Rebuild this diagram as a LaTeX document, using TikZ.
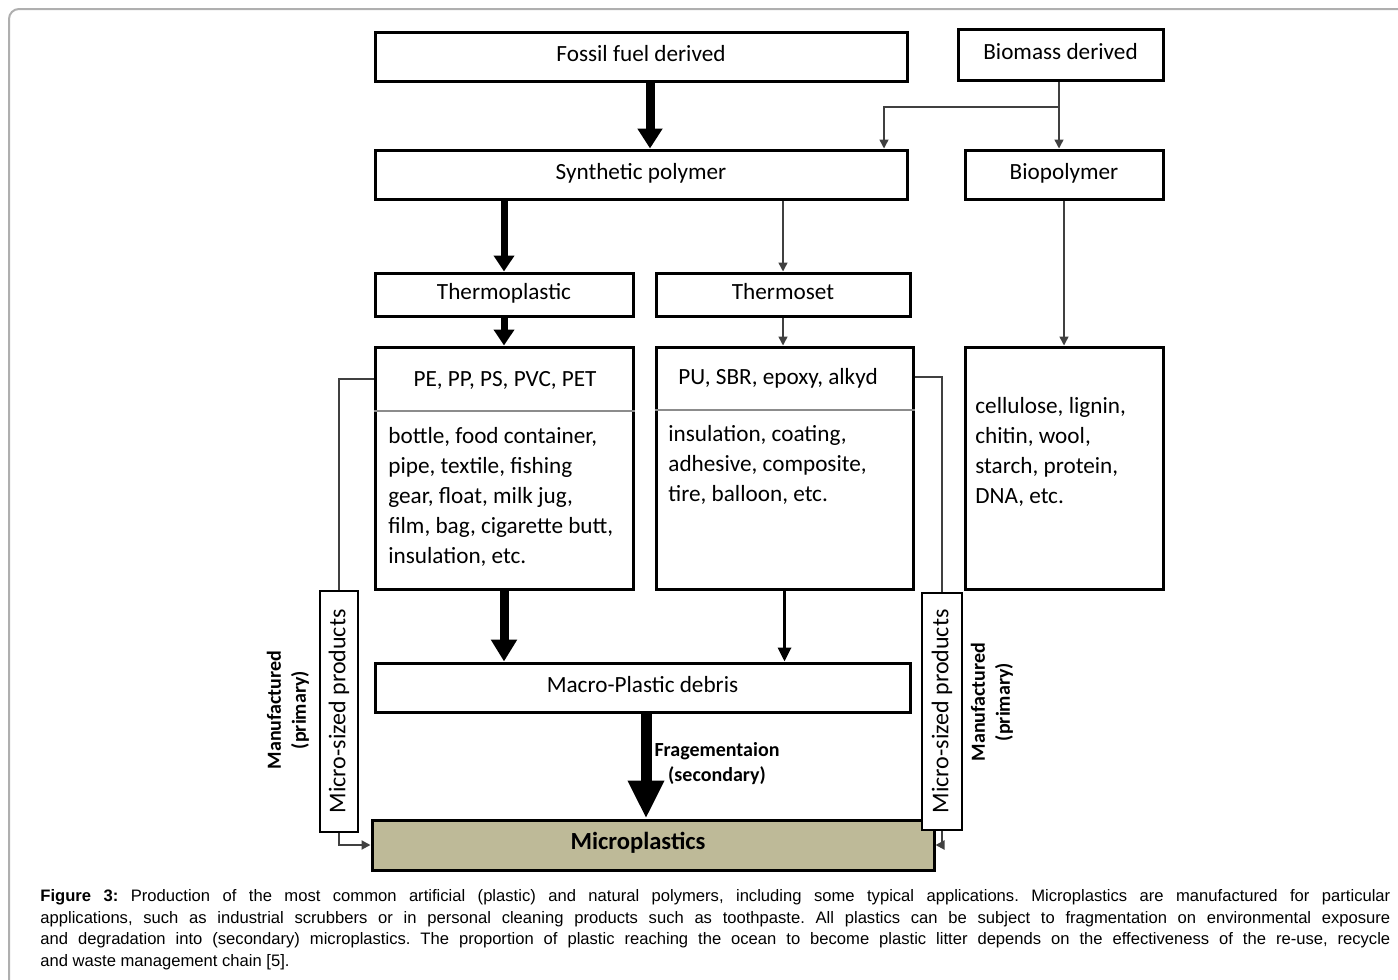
\documentclass[tikz,border=0pt]{standalone}
\usepackage{fontspec}
\setmainfont{Carlito}
\newfontfamily\capfont{Liberation Sans}
\usetikzlibrary{arrows.meta}
\definecolor{microfill}{RGB}{190,186,152}
\definecolor{framegrey}{RGB}{175,175,175}
\begin{document}
\begin{tikzpicture}[x=0.5pt,y=-0.5pt,
  box/.style={draw, line width=1.5pt, inner sep=0pt, text height=0.68em, text depth=0.2em, font=\fontsize{11.6}{15}\selectfont},
  sidebox/.style={draw, line width=1.2pt, fill=white, inner sep=0pt, font=\fontsize{12}{14}\selectfont},
  txt/.style={inner sep=0pt, font=\fontsize{11.6}{15}\selectfont},
  divider/.style={draw=black!45, line width=1pt},
  thinline/.style={draw=black!75, line width=0.75pt},
  thinarrow/.style={thinline, -{Triangle[width=4.5pt,length=4.5pt]}},
  sideline/.style={draw=black!75, line width=1pt},
  sidearrow/.style={sideline, -{Triangle[width=4.5pt,length=4.5pt]}},
  fatA/.style={line width=4.5pt, -{Triangle[width=12pt,length=10pt]}},
  midA/.style={line width=3.5pt, -{Triangle[width=10pt,length=8pt]}},
  fatB/.style={line width=4.5pt, -{Triangle[width=12.5pt,length=11pt]}},
  medA/.style={line width=1.6pt, -{Triangle[width=6.5pt,length=7pt]}},
  hugeA/.style={line width=5.5pt, -{Triangle[width=17pt,length=19pt]}},
  boldlbl/.style={inner sep=0pt, align=center, font=\bfseries\fontsize{10}{12.5}\selectfont}
]
\useasboundingbox (0,0) rectangle (1398,980);
% outer frame
\draw[framegrey, line width=1pt, rounded corners=5pt] (9,1010) -- (9,9) -- (1420,9);

% boxes
\node[box, minimum width=266pt, minimum height=24.5pt] (fossil) at (641,56.5) {Fossil fuel derived};
\node[box, minimum width=102.5pt, minimum height=25.5pt] (biomass) at (1060.5,54.5) {Biomass derived};
\node[box, minimum width=266pt, minimum height=24.5pt] (synth) at (641,174.5) {Synthetic polymer};
\node[box, minimum width=99pt, minimum height=24.5pt] (biopoly) at (1064,174.5) {Biopolymer};
\node[box, minimum width=129pt, minimum height=21.5pt] (tplast) at (504,294.5) {Thermoplastic};
\node[box, minimum width=127pt, minimum height=21.5pt] (tset) at (783,294.5) {Thermoset};
\node[box, minimum width=129pt, minimum height=121pt] (pe) at (504,468) {};
\node[box, minimum width=128.5pt, minimum height=121pt] (pu) at (784.5,468) {};
\node[box, minimum width=99pt, minimum height=121pt] (bio) at (1064,468) {};
\node[box, minimum width=267.5pt, minimum height=24.5pt] (macro) at (642.5,687.5) {Macro-Plastic debris};
\node[box, fill=microfill, minimum width=281pt, minimum height=25pt] (micro) at (653,845) {};
\node[sidebox, minimum width=19pt, minimum height=120.5pt] (msl) at (339,711.5) {\rotatebox{90}{Micro-sized products}};
\node[sidebox, minimum width=20pt, minimum height=118.5pt] (msr) at (942,711.5) {\rotatebox{90}{Micro-sized products}};

% dividers
\coordinate (y411) at (0,411);
\coordinate (y410) at (0,410);
\draw[divider] (pe.west |- y411) -- (pe.east |- y411);
\draw[divider] (pu.west |- y410) -- (pu.east |- y410);

% texts
\node[txt] (pet) at (505,380) {PE, PP, PS, PVC, PET};
\node[txt, anchor=base west] (peb) at (388,443.5) {\vtop{\baselineskip=15pt\hbox{bottle, food container,}\hbox{pipe, textile, fishing}\hbox{gear, float, milk jug,}\hbox{film, bag, cigarette butt,}\hbox{insulation, etc.}}};
\node[txt] (put) at (778,378) {PU, SBR, epoxy, alkyd};
\node[txt, anchor=base west] (pub) at (668,441.5) {\vtop{\baselineskip=15pt\hbox{insulation, coating,}\hbox{adhesive, composite,}\hbox{tire, balloon, etc.}}};
\node[txt, anchor=base west] (biot) at (975,413.5) {\vtop{\baselineskip=15pt\hbox{cellulose, lignin,}\hbox{chitin, wool,}\hbox{starch, protein,}\hbox{DNA, etc.}}};
\node[inner sep=0pt, font=\bfseries\fontsize{12.3}{14}\selectfont] (microt) at (638,843) {Microplastics};
\node[boldlbl] (frag) at (717,764) {Fragementaion\\(secondary)};
\node[boldlbl, rotate=90] (manl) at (288,710) {Manufactured\\(primary)};
\node[boldlbl, rotate=90] (manr) at (992,702) {Manufactured\\(primary)};

% connectors
\coordinate (c650) at (650,0);
\coordinate (c646) at (646,0);
\coordinate (c884) at (884,0);
\coordinate (split) at (1059,107);
\coordinate (y379) at (0,379);
\coordinate (y377) at (0,377);
\draw[fatA] (fossil.south -| c650) -- (synth.north -| c650);
\draw[thinline] (biomass.south -| split) -- (split);
\draw[thinarrow] (split) -| (synth.north -| c884);
\draw[thinarrow] (split) -- (biopoly.north -| split);
\draw[midA] (synth.south -| tplast) -- (tplast.north);
\draw[thinarrow] (synth.south -| tset) -- (tset.north);
\draw[midA] (tplast.south) -- (pe.north);
\draw[thinarrow] (tset.south) -- (pu.north -| tset.south);
\draw[thinarrow] (biopoly.south) -- (bio.north);
\draw[fatB] (pe.south) -- (macro.north -| pe.south);
\draw[medA] (pu.south) -- (macro.north -| pu.south);
\draw[hugeA] (macro.south -| c646) -- (micro.north -| c646);
\draw[sideline] (pe.west |- y379) -| (msl.north);
\draw[sidearrow] (msl.south) |- (micro.west);
\draw[sideline] (pu.east |- y377) -| (msr.north);
\draw[sidearrow] (msr.south) |- (micro.east);

% caption
\node[anchor=base west, inner sep=0pt, font=\capfont\fontsize{8.3}{10.85}\selectfont\frenchspacing] (cap) at (40,901.5) {\vtop{\baselineskip=10.85pt
\hbox to 675pt{\textbf{Figure 3:} Production of the most common artificial (plastic) and natural polymers, including some typical applications. Microplastics are manufactured for particular}
\hbox to 675pt{applications, such as industrial scrubbers or in personal cleaning products such as toothpaste. All plastics can be subject to fragmentation on environmental exposure}
\hbox to 675pt{and degradation into (secondary) microplastics. The proportion of plastic reaching the ocean to become plastic litter depends on the effectiveness of the re-use, recycle}
\hbox{and waste management chain [5].}}};
\end{tikzpicture}
\end{document}
